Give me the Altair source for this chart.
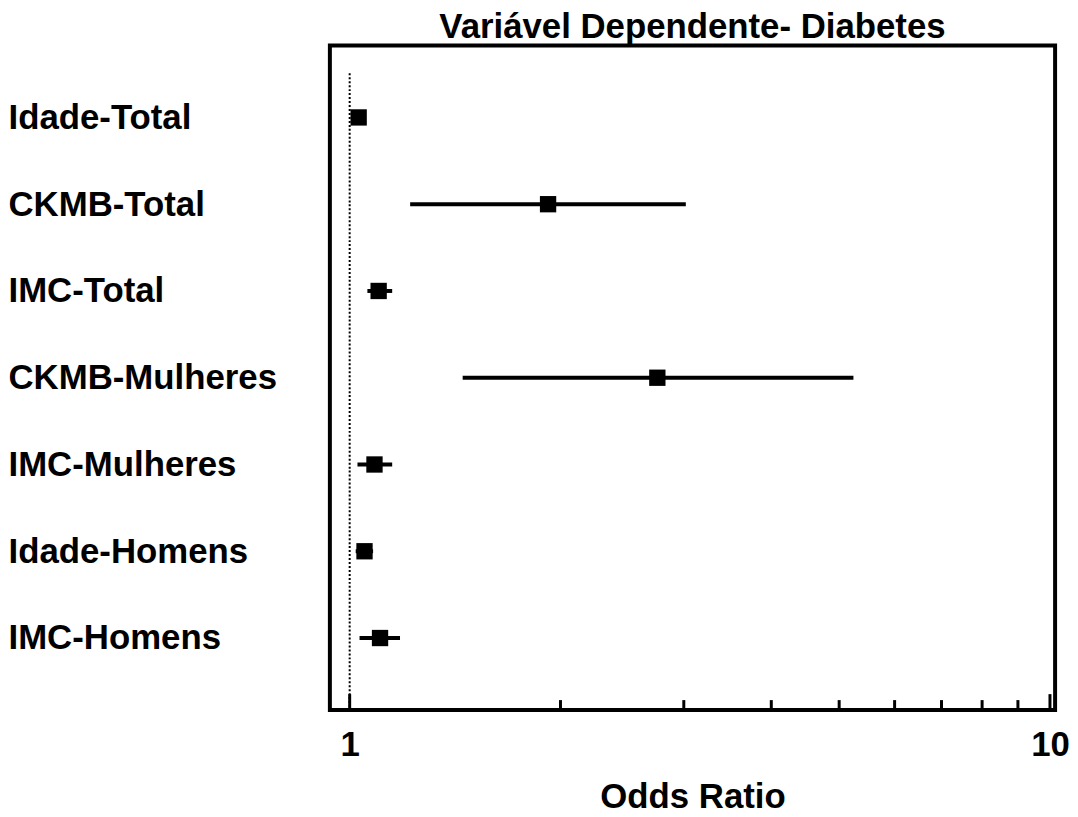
import altair as alt
import pandas as pd

labels = ["Idade-Total", "CKMB-Total", "IMC-Total", "CKMB-Mulheres",
          "IMC-Mulheres", "Idade-Homens", "IMC-Homens"]
odds = [1.03, 1.92, 1.10, 2.75, 1.085, 1.05, 1.105]
lower = [1.02, 1.22, 1.06, 1.45, 1.026, 1.02, 1.033]
upper = [1.04, 3.02, 1.15, 5.24, 1.15, 1.08, 1.18]

major_ticks = [1, 10]
minor_ticks = [2, 3, 4, 5, 6, 7, 8, 9]
ref_value = [1]

W, H = 730, 669
FONT = "Liberation Sans"

df = pd.DataFrame({"label": labels, "x": odds, "lo": lower, "hi": upper})
df_major = pd.DataFrame({"x": major_ticks})
df_minor = pd.DataFrame({"x": minor_ticks})
df_ref = pd.DataFrame({"x": ref_value})

x_scale = alt.Scale(type="log", domain=[0.937, 10.17], nice=False)
x_axis = alt.Axis(values=[1, 10], format="d", labelFontSize=35, labelFont=FONT,
                  labelFontWeight="bold", labelColor="black", labelPadding=18,
                  ticks=False, domain=False, grid=False,
                  title="Odds Ratio", titleFontSize=35, titleFont=FONT,
                  titleFontWeight="bold", titleColor="black", titlePadding=17)

def X(field="x"):
    return alt.X(f"{field}:Q", scale=x_scale, axis=x_axis)

y_enc = alt.Y("label:N", sort=labels,
              scale=alt.Scale(type="point", padding=0.83),
              axis=alt.Axis(labelAlign="left", labelPadding=324, labelFontSize=35,
                            labelFont=FONT, labelFontWeight="bold", labelColor="black",
                            labelLimit=400,
                            ticks=False, tickSize=0, domain=False, grid=False, title=None))

ref = alt.Chart(df_ref).mark_rule(color="black", strokeWidth=2, strokeDash=[2, 2]).encode(
    x=X(), y=alt.value(28), y2=alt.value(H))

major = alt.Chart(df_major).mark_rule(color="black", strokeWidth=3).encode(
    x=X(), y=alt.value(H), y2=alt.value(H - 16))

minor = alt.Chart(df_minor).mark_rule(color="black", strokeWidth=3).encode(
    x=X(), y=alt.value(H), y2=alt.value(H - 10))

bars = alt.Chart(df).mark_rule(color="black", strokeWidth=4).encode(
    x=X("lo"), x2="hi:Q", y=y_enc)

pts = alt.Chart(df).mark_square(color="black", size=270, opacity=1, filled=True).encode(
    x=X(), y=y_enc)

chart = alt.layer(ref, major, minor, bars, pts).properties(
    width=W, height=H,
    padding={"left": 0, "top": 0, "right": 0, "bottom": 0},
    title=alt.TitleParams("Variável Dependente- Diabetes", fontSize=35, font=FONT,
                          fontWeight="bold", color="black", frame="group", offset=0),
).configure(background="white").configure_view(stroke="black", strokeWidth=4)

chart.save("out.html", embed_options={"renderer": "svg", "actions": False})
